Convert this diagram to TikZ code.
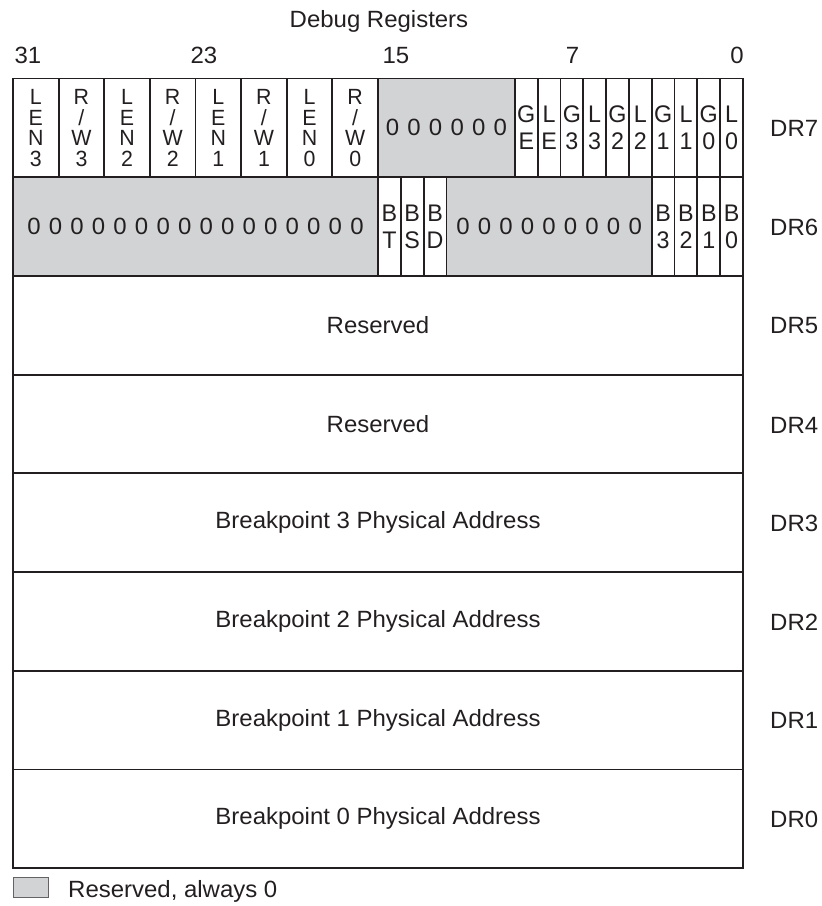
\documentclass[tikz,border=0pt]{standalone}
\usepackage{fontspec}
\setmainfont{Liberation Sans}[FakeStretch=1.02]
\newfontfamily\cellfont{Liberation Sans}[FakeStretch=0.97]
\definecolor{resgray}{RGB}{209,211,212}
\definecolor{ink}{RGB}{35,31,32}
\newcommand\zg{\hspace{8.2pt}}
\newcommand\bitfield[6]{% name, hi, lo, row, style, text
  \pgfmathsetmacro\fw{(#2-#3+1)*22.8125}%
  \pgfmathsetmacro\fx{743-(#2+#3+1)*22.8125/2}%
  \pgfmathsetmacro\fy{78.5+(#4+0.5)*98.7}%
  \node[cell,#5,minimum width=\fw pt] (#1) at (\fx,\fy) {#6};}
\begin{document}
\begin{tikzpicture}[x=1pt,y=-1pt,
  font=\fontsize{23.5}{22}\selectfont, text=ink,
  cell/.style={draw=ink, line width=1.8pt, inner sep=0pt, align=center, minimum height=98.7pt},
  res/.style={fill=resgray},
  four/.style={font=\cellfont\fontsize{22}{20.5}\selectfont},
  two/.style={font=\cellfont\fontsize{24}{27}\selectfont},
  lab/.style={anchor=west, inner sep=0pt},
  num/.style={anchor=base, inner sep=0pt}]
\useasboundingbox (0,0) rectangle (822,906);

% title and bit numbers
\node[num] (title) at (379,27) {Debug Registers};
\node[num] (b31) at (28,63) {31};
\node[num] (b23) at (204,63) {23};
\node[num] (b15) at (396,63) {15};
\node[num] (b7) at (572.5,63) {7};
\node[num] (b0) at (737,63) {0};

% DR7
\bitfield{len3}{31}{30}{0}{four}{L\\E\\N\\3}
\bitfield{rw3}{29}{28}{0}{four}{R\\/\\W\\3}
\bitfield{len2}{27}{26}{0}{four}{L\\E\\N\\2}
\bitfield{rw2}{25}{24}{0}{four}{R\\/\\W\\2}
\bitfield{len1}{23}{22}{0}{four}{L\\E\\N\\1}
\bitfield{rw1}{21}{20}{0}{four}{R\\/\\W\\1}
\bitfield{len0}{19}{18}{0}{four}{L\\E\\N\\0}
\bitfield{rw0}{17}{16}{0}{four}{R\\/\\W\\0}
\bitfield{r7res}{15}{10}{0}{res}{0\zg0\zg0\zg0\zg0\zg0}
\bitfield{ge}{9}{9}{0}{two}{G\\E}
\bitfield{le}{8}{8}{0}{two}{L\\E}
\bitfield{g3}{7}{7}{0}{two}{G\\3}
\bitfield{l3}{6}{6}{0}{two}{L\\3}
\bitfield{g2}{5}{5}{0}{two}{G\\2}
\bitfield{l2}{4}{4}{0}{two}{L\\2}
\bitfield{g1}{3}{3}{0}{two}{G\\1}
\bitfield{l1}{2}{2}{0}{two}{L\\1}
\bitfield{g0}{1}{1}{0}{two}{G\\0}
\bitfield{l0}{0}{0}{0}{two}{L\\0}

% DR6
\bitfield{r6hi}{31}{16}{1}{res}{0\zg0\zg0\zg0\zg0\zg0\zg0\zg0\zg0\zg0\zg0\zg0\zg0\zg0\zg0\zg0}
\bitfield{bt}{15}{15}{1}{two}{B\\T}
\bitfield{bs}{14}{14}{1}{two}{B\\S}
\bitfield{bd}{13}{13}{1}{two}{B\\D}
\bitfield{r6mid}{12}{4}{1}{res}{0\zg0\zg0\zg0\zg0\zg0\zg0\zg0\zg0}
\bitfield{bthree}{3}{3}{1}{two}{B\\3}
\bitfield{btwo}{2}{2}{1}{two}{B\\2}
\bitfield{bone}{1}{1}{1}{two}{B\\1}
\bitfield{bzero}{0}{0}{1}{two}{B\\0}

% DR5 .. DR0
\bitfield{dr5}{31}{0}{2}{}{Reserved}
\bitfield{dr4}{31}{0}{3}{}{Reserved}
\bitfield{dr3}{31}{0}{4}{}{Breakpoint 3 Physical Address}
\bitfield{dr2}{31}{0}{5}{}{Breakpoint 2 Physical Address}
\bitfield{dr1}{31}{0}{6}{}{Breakpoint 1 Physical Address}
\bitfield{dr0}{31}{0}{7}{}{Breakpoint 0 Physical Address}

% register labels
\node[lab] (n7) at (770,128) {DR7};
\node[lab] (n6) at (770,227) {DR6};
\node[lab] (n5) at (770,326) {DR5};
\node[lab] (n4) at (770,425) {DR4};
\node[lab] (n3) at (770,523) {DR3};
\node[lab] (n2) at (770,622) {DR2};
\node[lab] (n1) at (770,720) {DR1};
\node[lab] (n0) at (770,819) {DR0};

% legend
\node[draw=ink!70, fill=resgray, line width=1pt, inner sep=0pt,
      minimum width=35pt, minimum height=20pt] (legbox) at (30.5,887) {};
\node[anchor=base west, inner sep=0pt] (legtext) at (68,897) {Reserved, always 0};
\end{tikzpicture}
\end{document}
